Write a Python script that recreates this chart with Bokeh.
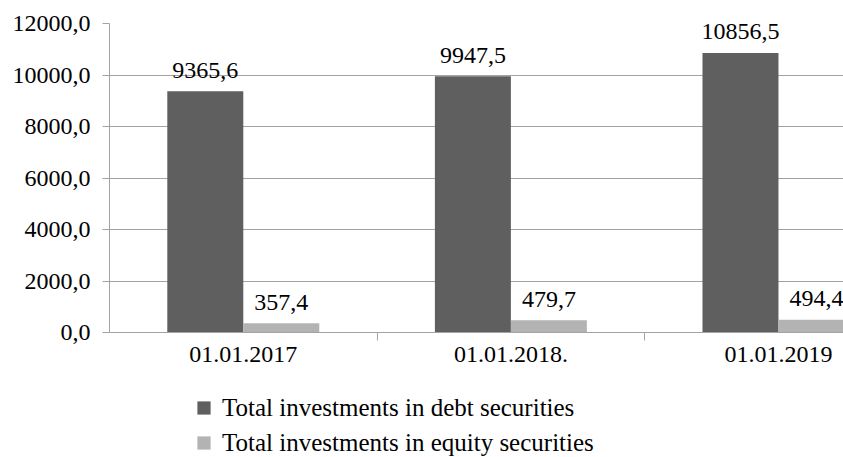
import numpy as np
from bokeh.plotting import figure
from bokeh.layouts import column
from bokeh.models import Range1d, FixedTicker, Legend, LegendItem, LabelSet, ColumnDataSource
from bokeh.core.properties import value
from bokeh.embed import file_html
from bokeh.resources import INLINE

categories = ["01.01.2017", "01.01.2018.", "01.01.2019"]
debt = [9365.6, 9947.5, 10856.5]
equity = [357.4, 479.7, 494.4]
y_ticks = [0, 2000, 4000, 6000, 8000, 10000, 12000]
y_tick_labels = ["0,0", "2000,0", "4000,0", "6000,0", "8000,0", "10000,0", "12000,0"]
series_names = ["Total investments in debt securities", "Total investments in equity securities"]

FONT = "Liberation Serif"
FS = "24px"
GRAY = "#a3a3a3"
DARK = "#5f5f5f"
LIGHT = "#b3b3b3"

idx = np.arange(len(categories))
bar_w = 0.284
fmt = lambda v: f"{v:.1f}".replace(".", ",")
src = ColumnDataSource(dict(
    x_debt=idx + 0.5 - bar_w / 2,
    x_eq=idx + 0.5 + bar_w / 2,
    debt=debt,
    equity=equity,
    debt_lbl=[fmt(v) for v in debt],
    eq_lbl=[fmt(v) for v in equity],
))

p = figure(width=843, height=377, output_backend="svg", toolbar_location=None,
           x_range=Range1d(0, 2.743), y_range=Range1d(0, 12000),
           min_border_left=109, min_border_right=0, min_border_top=23, min_border_bottom=45)
p.outline_line_color = None
p.background_fill_color = "white"
p.border_fill_color = "white"

p.vbar(x="x_debt", top="debt", width=bar_w, fill_color=DARK, line_color=None, source=src)
p.vbar(x="x_eq", top="equity", width=bar_w, fill_color=LIGHT, line_color=None, source=src)

for xf, yf, tf in [("x_debt", "debt", "debt_lbl"), ("x_eq", "equity", "eq_lbl")]:
    p.add_layout(LabelSet(x=xf, y=yf, text=tf, source=src, text_align="center",
                          text_baseline="middle", y_offset=21,
                          text_font=value(FONT), text_font_size=value(FS), text_color="black"))

# x axis
xa = p.xaxis[0]
xa.ticker = FixedTicker(ticks=list(idx + 0.5), minor_ticks=list(idx[1:].astype(float)))
xa.major_label_overrides = {float(i + 0.5): c for i, c in enumerate(categories)}
xa.major_tick_out = 8
xa.major_tick_in = 0
xa.major_tick_line_color = None
xa.minor_tick_out = 8
xa.minor_tick_in = 0
xa.minor_tick_line_color = GRAY
xa.axis_line_color = GRAY
xa.major_label_standoff = 6
xa.major_label_text_font = FONT
xa.major_label_text_font_size = FS
xa.major_label_text_color = "black"

# y axis
ya = p.yaxis[0]
ya.ticker = FixedTicker(ticks=y_ticks)
ya.major_label_overrides = {t: l for t, l in zip(y_ticks, y_tick_labels)}
ya.major_tick_out = 7
ya.major_tick_in = 0
ya.major_tick_line_color = GRAY
ya.minor_tick_line_color = None
ya.axis_line_color = GRAY
ya.major_label_standoff = 12
ya.major_label_text_font = FONT
ya.major_label_text_font_size = FS
ya.major_label_text_color = "black"

p.xgrid.grid_line_color = None
p.ygrid.grid_line_color = GRAY

# legend strip below the chart (key markers use the series data, plotted out of view)
q = figure(width=843, height=80, output_backend="svg", toolbar_location=None,
           x_range=Range1d(0, 1), y_range=Range1d(-1, 0),
           x_axis_location=None, y_axis_location=None,
           min_border_left=0, min_border_right=0, min_border_top=0, min_border_bottom=0)
q.outline_line_color = None
q.xgrid.grid_line_color = None
q.ygrid.grid_line_color = None
k1 = q.scatter(x="x_debt", y="debt", source=src, marker="square", size=13, fill_color=DARK, line_color=None)
k2 = q.scatter(x="x_eq", y="equity", source=src, marker="square", size=13, fill_color=LIGHT, line_color=None)

legend = Legend(items=[LegendItem(label=series_names[0], renderers=[k1]),
                       LegendItem(label=series_names[1], renderers=[k2])],
                location=(78, -2), orientation="vertical",
                glyph_width=33, glyph_height=33, label_height=27, spacing=2,
                label_standoff=2, padding=0, margin=0,
                border_line_color=None, background_fill_alpha=0,
                label_text_font=FONT, label_text_font_size="25px", label_text_color="black")
q.add_layout(legend)

open("out.html", "w").write(file_html(column(p, q), INLINE))
